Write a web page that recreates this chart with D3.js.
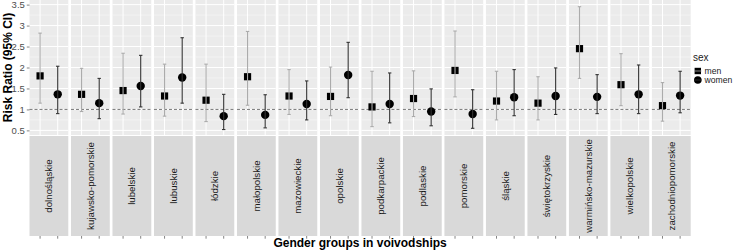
<!DOCTYPE html>
<html>
<head>
<meta charset="utf-8">
<script src="https://cdn.jsdelivr.net/npm/d3@7"></script>
<style>
  body { margin: 0; background: #fff; }
  svg text { font-family: "Liberation Sans", Arial, sans-serif; }
</style>
</head>
<body>
<div id="chart"></div>
<script>
const regions = ["dolnośląskie", "kujawsko-pomorskie", "lubelskie", "lubuskie", "łódzkie",
  "małopolskie", "mazowieckie", "opolskie", "podkarpackie", "podlaskie", "pomorskie",
  "śląskie", "świętokrzyskie", "warmińsko-mazurskie", "wielkopolskie", "zachodniopomorskie"];
const sexes = ["men", "women"];

const menRR    = [1.80, 1.36, 1.45, 1.32, 1.22, 1.78, 1.32, 1.31, 1.06, 1.26, 1.93, 1.20, 1.15, 2.45, 1.59, 1.09];
const menLow   = [1.15, 0.95, 0.89, 0.84, 0.71, 1.10, 0.88, 0.85, 0.59, 0.83, 1.30, 0.75, 0.75, 1.74, 1.09, 0.72];
const menHigh  = [2.82, 1.98, 2.34, 2.08, 2.08, 2.86, 1.95, 2.01, 1.91, 1.92, 2.87, 1.91, 1.78, 3.45, 2.33, 1.64];
const womenRR  = [1.36, 1.15, 1.56, 1.76, 0.84, 0.87, 1.13, 1.82, 1.13, 0.95, 0.89, 1.29, 1.32, 1.30, 1.36, 1.33];
const womenLow = [0.90, 0.78, 1.06, 1.15, 0.52, 0.56, 0.75, 1.28, 0.68, 0.61, 0.55, 0.85, 0.88, 0.90, 0.90, 0.92];
const womenHigh= [2.03, 1.74, 2.29, 2.71, 1.36, 1.35, 1.68, 2.60, 1.87, 1.49, 1.47, 1.95, 1.99, 1.83, 2.06, 1.91];
const yTicks = [0.5, 1, 1.5, 2, 2.5, 3, 3.5];

const width = 742, height = 251;
const plotLeft = 29.5, plotRight = 690.7, gap = 2.7;
const panelTop = 0, panelBottom = 135, stripBottom = 236;

const rows = [];
regions.forEach((r, i) => {
  rows.push({region: r, sex: "men", rr: menRR[i], lo: menLow[i], hi: menHigh[i]});
  rows.push({region: r, sex: "women", rr: womenRR[i], lo: womenLow[i], hi: womenHigh[i]});
});

const svg = d3.select("#chart").append("svg")
  .attr("width", width).attr("height", height);

const fx = d3.scaleBand().domain(regions)
  .range([plotLeft, plotRight + gap]).paddingInner(0).paddingOuter(0);
const panelW = fx.bandwidth() - gap;
const x = d3.scalePoint().domain(sexes).range([0, panelW]).padding(0.6);
const y = d3.scaleLinear().domain([0.39, 3.61]).range([panelBottom, panelTop]);

const barColor = {men: "#ababab", women: "#333333"};

const panels = svg.selectAll("g.panel").data(regions).enter()
  .append("g").attr("class", "panel")
  .attr("transform", d => `translate(${fx(d)},0)`);

panels.append("rect")
  .attr("y", panelTop).attr("width", panelW).attr("height", panelBottom - panelTop)
  .attr("fill", "#ebebeb");

// grid + reference line
const minor = d3.range(0.75, 3.5, 0.5);
panels.each(function() {
  const g = d3.select(this);
  g.selectAll("line.minor").data(minor).enter().append("line")
    .attr("x1", 0).attr("x2", panelW)
    .attr("y1", d => y(d)).attr("y2", d => y(d))
    .attr("stroke", "#fafafa").attr("stroke-width", 0.5);
  g.selectAll("line.major").data(yTicks).enter().append("line")
    .attr("x1", 0).attr("x2", panelW)
    .attr("y1", d => y(d)).attr("y2", d => y(d))
    .attr("stroke", "#fff").attr("stroke-width", 1);
  g.selectAll("line.vx").data(sexes).enter().append("line")
    .attr("x1", d => x(d)).attr("x2", d => x(d))
    .attr("y1", panelTop).attr("y2", panelBottom)
    .attr("stroke", "#fff").attr("stroke-width", 1);
  g.append("line")
    .attr("x1", 0).attr("x2", panelW)
    .attr("y1", y(1)).attr("y2", y(1))
    .attr("stroke", "#555").attr("stroke-width", 0.8).attr("stroke-dasharray", "3,2");
});

// strips
panels.append("rect")
  .attr("y", panelBottom + 1).attr("width", panelW).attr("height", stripBottom - panelBottom - 1)
  .attr("fill", "#d9d9d9");
panels.append("text")
  .attr("transform", `translate(${panelW / 2 + 3.4},${(panelBottom + 1 + stripBottom) / 2}) rotate(-90)`)
  .attr("text-anchor", "middle")
  .attr("font-size", 9.7).attr("fill", "#1a1a1a")
  .text(d => d);

// x ticks under strips
panels.each(function() {
  d3.select(this).selectAll("line.xt").data(sexes).enter().append("line")
    .attr("x1", d => x(d)).attr("x2", d => x(d))
    .attr("y1", stripBottom).attr("y2", stripBottom + 2.7)
    .attr("stroke", "#333").attr("stroke-width", 0.6);
});

// points then error bars
const marks = svg.append("g");
rows.forEach(d => {
  const cx = fx(d.region) + x(d.sex);
  if (d.sex === "men") {
    marks.append("rect")
      .attr("x", cx - 3.6).attr("y", y(d.rr) - 3.6)
      .attr("width", 7.2).attr("height", 7.2).attr("fill", "#000");
  } else {
    marks.append("circle")
      .attr("cx", cx).attr("cy", y(d.rr)).attr("r", 4.2).attr("fill", "#000");
  }
});
rows.forEach(d => {
  const cx = fx(d.region) + x(d.sex);
  const c = barColor[d.sex];
  marks.append("line").attr("x1", cx).attr("x2", cx)
    .attr("y1", y(d.lo)).attr("y2", y(d.hi)).attr("stroke", c).attr("stroke-width", 1.1);
  [d.lo, d.hi].forEach(v => {
    marks.append("line").attr("x1", cx - 1.7).attr("x2", cx + 1.7)
      .attr("y1", y(v)).attr("y2", y(v)).attr("stroke", c).attr("stroke-width", 1.1);
  });
});

// y axis
const yAxis = svg.append("g").attr("transform", `translate(${plotLeft},0)`)
  .call(d3.axisLeft(y).tickValues(yTicks).tickSize(2.7).tickPadding(2).tickFormat(d3.format("")));
yAxis.select(".domain").remove();
yAxis.selectAll(".tick line").attr("stroke", "#333").attr("stroke-width", 0.6);
yAxis.selectAll(".tick text").attr("fill", "#4d4d4d").attr("font-size", 9.5)
  .style("font-family", "Liberation Sans, Arial, sans-serif");

svg.append("text")
  .attr("transform", `translate(12,${(panelTop + panelBottom) / 2}) rotate(-90)`)
  .attr("text-anchor", "middle").attr("font-size", 12).attr("font-weight", "bold")
  .text("Risk Ratio (95% CI)");

svg.append("text")
  .attr("x", (plotLeft + plotRight) / 2).attr("y", 247)
  .attr("text-anchor", "middle").attr("font-size", 12).attr("font-weight", "bold")
  .text("Gender groups in voivodships");

// legend
const leg = svg.append("g").attr("transform", "translate(693,0)");
leg.append("text").attr("x", 0).attr("y", 61).attr("font-size", 10).attr("fill", "#1a1a1a").text("sex");
sexes.forEach((s, i) => {
  const ky = 71 + i * 9;
  if (s === "men") {
    leg.append("rect").attr("x", 1.6).attr("y", ky - 3.2).attr("width", 6.4).attr("height", 6.4).attr("fill", "#000");
  } else {
    leg.append("circle").attr("cx", 4.8).attr("cy", ky).attr("r", 3.8).attr("fill", "#000");
  }
  leg.append("line").attr("x1", 1).attr("x2", 8.6).attr("y1", ky).attr("y2", ky)
    .attr("stroke", barColor[s]).attr("stroke-width", 0.8);
  leg.append("text").attr("x", 11.5).attr("y", ky + 3).attr("font-size", 8.6).attr("fill", "#1a1a1a").text(s);
});
</script>
</body>
</html>
